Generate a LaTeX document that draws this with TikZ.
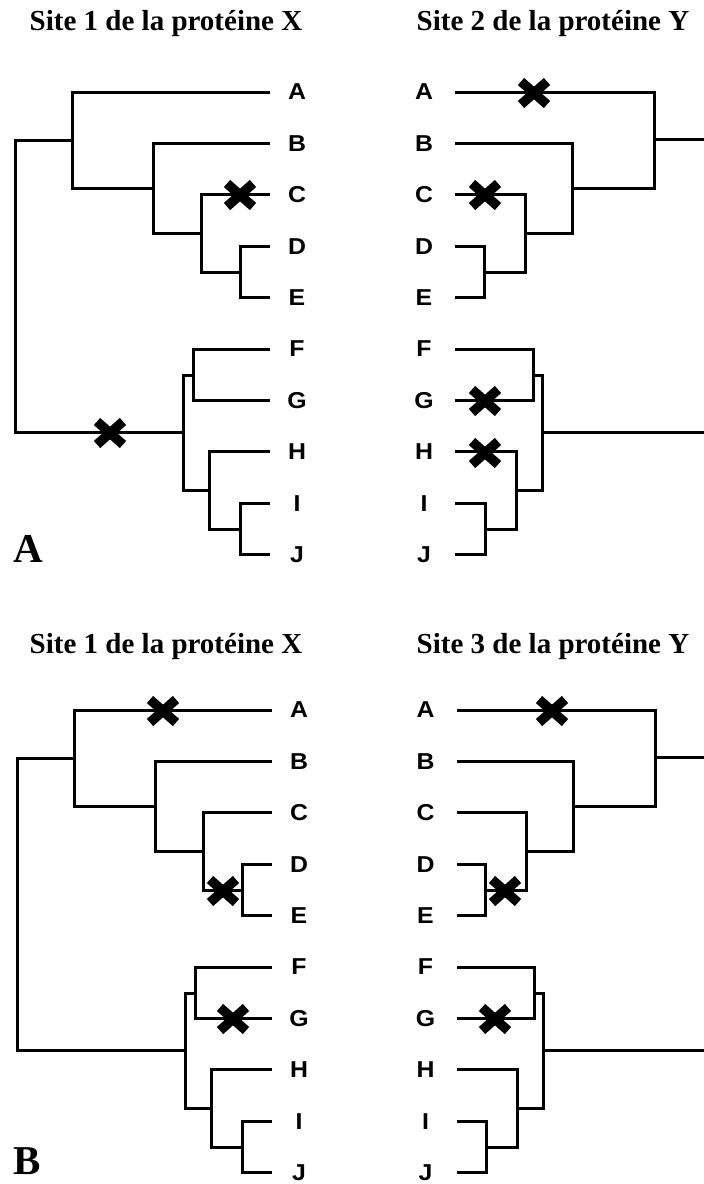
\documentclass[tikz,border=0pt]{standalone}
\usepackage{fontspec}
\setmainfont{Liberation Serif}
\newfontfamily\leaffont{Liberation Sans}
\tikzset{
  branch/.style={line width=3pt, line join=miter, line cap=butt, black},
  leaf/.style={inner sep=0pt, font=\leaffont\bfseries\fontsize{23}{26}\selectfont, xscale=1.08},
  titlelab/.style={inner sep=0pt, anchor=base, font=\bfseries\fontsize{29}{34}\selectfont},
  panellab/.style={inner sep=0pt, anchor=base west, font=\bfseries\fontsize{41}{46}\selectfont},
  xmark/.pic={\draw[line width=9.5pt, line cap=butt] (-13,-11.5) -- (13,11.5) (-13,11.5) -- (13,-11.5);}
}
\newcommand{\leafset}[3]{% prefix, tip x, label x
  \foreach \l/\yy in {A/92,B/143.4,C/194.8,D/246.2,E/297.6,F/349,G/400.4,H/451.8,I/503.2,J/554.6}{
    \coordinate (#1t\l) at (#2,\yy);
    \node[leaf] (#1\l) at (#3,\yy) {\l};
  }
}
\newcommand{\treebranches}[1]{%
  \draw[branch] (#1U) |- (#1tA) (#1U) |- (#1N1)
    (#1N1) |- (#1tB) (#1N1) |- (#1N2)
    (#1N2) |- (#1tC) (#1N2) |- (#1N3)
    (#1N3) |- (#1tD) (#1N3) |- (#1tE)
    (#1L) |- (#1N4) (#1L) |- (#1N5)
    (#1N4) |- (#1tF) (#1N4) |- (#1tG)
    (#1N5) |- (#1tH) (#1N5) |- (#1N6)
    (#1N6) |- (#1tI) (#1N6) |- (#1tJ);
}
\newcommand{\lefttree}[1]{%
  \coordinate (#1R) at (15,286);
  \coordinate (#1U) at (72,140);
  \coordinate (#1N1) at (153,188);
  \coordinate (#1N2) at (201,233);
  \coordinate (#1N3) at (240,272);
  \coordinate (#1L) at (183,432.5);
  \coordinate (#1N4) at (193,375);
  \coordinate (#1N5) at (209,490);
  \coordinate (#1N6) at (240,529);
  \leafset{#1}{270}{297}
  \draw[branch] (#1R) |- (#1U) (#1R) |- (#1L);
  \treebranches{#1}
}
\newcommand{\righttree}[1]{%
  \coordinate (#1U) at (654,139);
  \coordinate (#1N1) at (572,188);
  \coordinate (#1N2) at (525,233);
  \coordinate (#1N3) at (484,272);
  \coordinate (#1L) at (542,432.5);
  \coordinate (#1N4) at (533,375);
  \coordinate (#1N5) at (516,490);
  \coordinate (#1N6) at (485,529);
  \coordinate (#1eU) at (704,139);
  \coordinate (#1eL) at (704,432.5);
  \leafset{#1}{455}{424}
  \draw[branch] (#1U) -- (#1eU) (#1L) -- (#1eL);
  \treebranches{#1}
}
\begin{document}
\begin{tikzpicture}[x=1pt, y=-1pt]
  \useasboundingbox (0,0) rectangle (704,1184);
  % Panel A
  \node[titlelab] (tAX) at (166,30) {Site 1 de la protéine X};
  \node[titlelab] (tAY) at (553,30) {Site 2 de la protéine Y};
  \lefttree{al}
  \righttree{ar}
  \node[panellab] (labA) at (13,562) {A};
  % Panel B
  \node[titlelab] (tBX) at (166,653) {Site 1 de la protéine X};
  \node[titlelab] (tBY) at (553,653) {Site 3 de la protéine Y};
  \begin{scope}[shift={(2,618)}]
    \lefttree{bl}
  \end{scope}
  \begin{scope}[shift={(1.5,618)}]
    \righttree{br}
  \end{scope}
  \node[panellab] (labB) at (13,1174) {B};
  % Mutation marks, panel A
  \pic at (240,195) {xmark};
  \pic at (110,433) {xmark};
  \pic at (534,93) {xmark};
  \pic at (485,195) {xmark};
  \pic at (485,401) {xmark};
  \pic at (485,453) {xmark};
  % Mutation marks, panel B
  \pic at (163,711) {xmark};
  \pic at (223,891) {xmark};
  \pic at (233,1019) {xmark};
  \pic at (552,711) {xmark};
  \pic at (505,891) {xmark};
  \pic at (495,1019) {xmark};
\end{tikzpicture}
\end{document}
